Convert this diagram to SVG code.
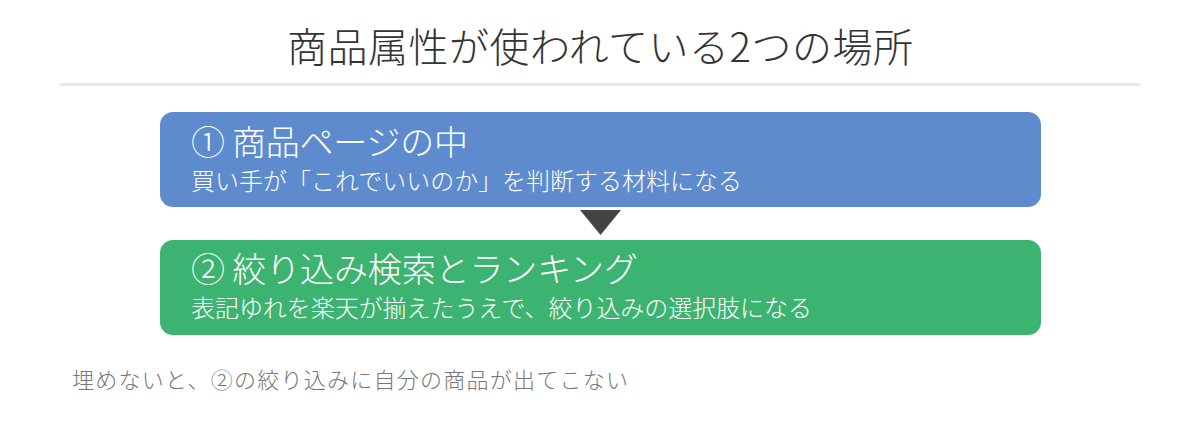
<svg xmlns="http://www.w3.org/2000/svg" width="1200" height="422" viewBox="0 0 1200 422">
<style>
text{font-family:"Noto Sans CJK JP","Noto Sans",sans-serif;font-weight:300;}
.title{font-size:40px;fill:#333333;}
.head{font-size:34px;fill:#ffffff;}
.sub{font-size:24px;fill:#ffffff;}
.note{font-size:22px;fill:#777777;}
</style>
<rect width="1200" height="422" fill="#ffffff"/>
<g id="title">
<text class="title" x="287" y="62" textLength="626" lengthAdjust="spacing">商品属性が使われている2つの場所</text>
<line x1="60" y1="84.5" x2="1140" y2="84.5" stroke="#e8e8e8" stroke-width="3"/>
</g>
<g id="node1">
<rect x="160" y="112" width="881" height="95" rx="13" fill="#5d8bcd"/>
<text class="head" x="191" y="155" textLength="277" lengthAdjust="spacing">① 商品ページの中</text>
<text class="sub" x="191" y="190" textLength="551" lengthAdjust="spacing">買い手が「これでいいのか」を判断する材料になる</text>
</g>
<g id="connectors">
<polygon points="580,210 621,210 600.5,235" fill="#444444"/>
</g>
<g id="node2">
<rect x="160" y="240" width="881" height="95" rx="13" fill="#3db371"/>
<text class="head" x="191" y="282" textLength="447" lengthAdjust="spacing">② 絞り込み検索とランキング</text>
<text class="sub" x="191" y="317" textLength="621" lengthAdjust="spacing">表記ゆれを楽天が揃えたうえで、絞り込みの選択肢になる</text>
</g>
<g id="note">
<text class="note" x="72" y="388" textLength="556" lengthAdjust="spacing">埋めないと、②の絞り込みに自分の商品が出てこない</text>
</g>
</svg>
